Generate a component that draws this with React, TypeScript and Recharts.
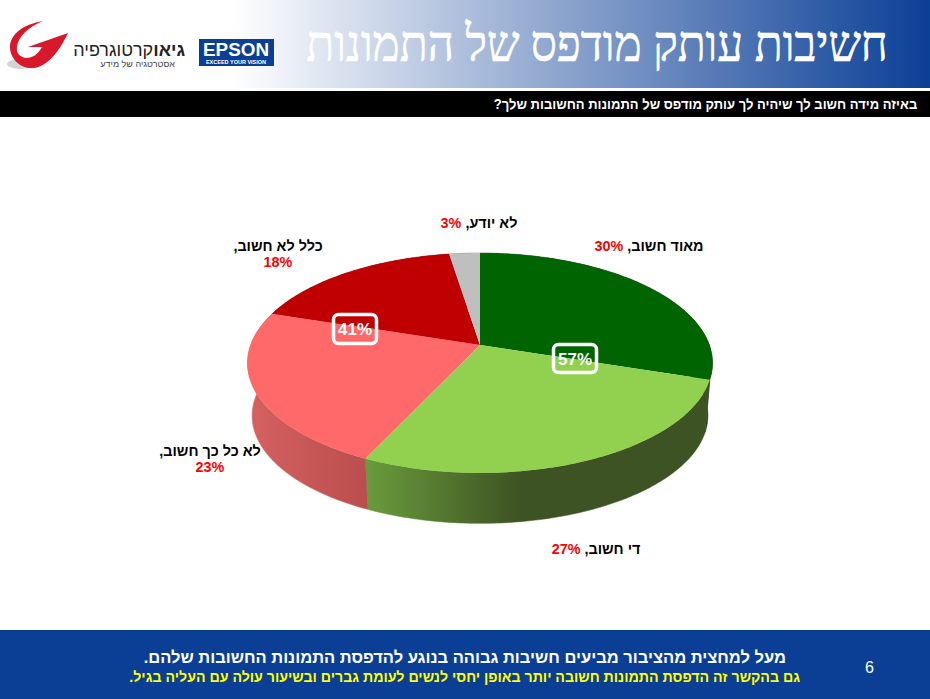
import React from "react";
import { PieChart, Pie } from "recharts";

const categories = ["מאוד חשוב", "די חשוב", "לא כל כך חשוב", "כלל לא חשוב", "לא יודע"];
const shares = [30, 27, 23, 17.5, 2.5];
const topColors = ["#006400", "#92D050", "#FF6969", "#C00000", "#BFBFBF"];
const wallFills = ["#1F3A10", "url(#wallGreen)", "url(#wallRed)", "#8A0000", "#888888"];
const summaryLabels = ["57%", "41%"];

const TITLE = "חשיבות עותק מודפס של התמונות";
const QUESTION = "באיזה מידה חשוב לך שיהיה לך עותק מודפס של התמונות החשובות שלך?";
const FOOT_1 = "מעל למחצית מהציבור מביעים חשיבות גבוהה בנוגע להדפסת התמונות החשובות שלהם.";
const FOOT_2 = "גם בהקשר זה הדפסת התמונות חשובה יותר באופן יחסי לנשים לעומת גברים ובשיעור עולה עם העליה בגיל.";

const SANS = "'Liberation Sans', Arial, sans-serif";
const SERIF = "'Liberation Serif', serif";

// perspective of the pie: k is the tilt foreshortening, the rest fits the ellipse on the slide
const K = 0.1636;
const SQUASH = 107 / 229.4;
const DEPTH = 53;
const BOTTOM_SCALE = 0.98;

const labelSpots = [
  { x: 649, y: 251, twoLines: false },
  { x: 596, y: 554, twoLines: false },
  { x: 210, y: 456, twoLines: true },
  { x: 278, y: 251, twoLines: true },
  { x: 479, y: 228, twoLines: false },
];

const rimPoint = (cx: number, cy: number, r: number, deg: number, scale = 1, drop = 0) => {
  const t = ((90 - deg) * Math.PI) / 180;
  const px = Math.sin(t);
  const py = -Math.cos(t);
  const d = 1 - K * py;
  return [cx + (scale * r * px) / d, cy + drop + (scale * r * SQUASH * py) / d];
};

const arcPoints = (props: any, scale = 1, drop = 0) => {
  const { cx, cy, outerRadius, startAngle, endAngle } = props;
  const n = Math.max(2, Math.ceil(Math.abs(endAngle - startAngle)));
  const pts: number[][] = [];
  for (let i = 0; i <= n; i++) {
    pts.push(rimPoint(cx, cy, outerRadius, startAngle + ((endAngle - startAngle) * i) / n, scale, drop));
  }
  return pts;
};

const toPath = (pts: number[][]) =>
  pts.map((p, i) => `${i === 0 ? "M" : "L"}${p[0].toFixed(2)} ${p[1].toFixed(2)}`).join(" ") + " Z";

const TopSlice = (props: any) => (
  <path d={toPath([[props.cx, props.cy], ...arcPoints(props)])} fill={props.fill} />
);

const WallSlice = (props: any) => {
  const top = arcPoints(props);
  const bottom = arcPoints(props, BOTTOM_SCALE, DEPTH).reverse();
  return <path d={toPath([...top, ...bottom])} fill={props.fill} stroke={props.fill} strokeWidth={0.5} />;
};

const renderLabel = (props: any) => {
  const spot = labelSpots[props.index];
  const pct = `${Math.round(shares[props.index])}%`;
  const common = { fontFamily: SANS, fontWeight: 700, fontSize: 14.4, textAnchor: "middle" as const };
  if (spot.twoLines) {
    return (
      <g key={props.index}>
        <text x={spot.x} y={spot.y} fill="#000" direction="rtl" {...common}>
          {categories[props.index]},
        </text>
        <text x={spot.x} y={spot.y + 16} fill="#FF0000" {...common}>
          {pct}
        </text>
      </g>
    );
  }
  return (
    <text key={props.index} x={spot.x} y={spot.y} fill="#000" direction="rtl" {...common}>
      {categories[props.index]}, <tspan fill="#FF0000">{pct}</tspan>
    </text>
  );
};

const SummaryBox = ({ x, y, h, text }: { x: number; y: number; h: number; text: string }) => (
  <g>
    <rect x={x} y={y} width={43} height={h} rx={5} fill="none" stroke="#fff" strokeWidth={3.5} />
    <text x={x + 21.5} y={y + h / 2 + 6} fill="#fff" fontFamily={SANS} fontWeight={700} fontSize={17} textAnchor="middle">
      {text}
    </text>
  </g>
);

const Logos = () => (
  <svg width={290} height={88} style={{ position: "absolute", left: 0, top: 0 }}>
    <ellipse cx={21} cy={64} rx={14} ry={5} fill="#d4d4d4" />
    <path
      d="M43 21 C24 24 10 34 10 47 C10 60 22 69 33 68 C48 67 60 50 68 33 L28 47 L42 47 C38 54 33 58 26 58 C19 57 16 52 17 47 C18 37 28 27 43 21 Z"
      fill="#D9182B"
    />
    <text x={185} y={56} direction="rtl" fontFamily={SANS} fontSize={18} fill="#222" textAnchor="start">
      <tspan fontWeight={700}>גיאו</tspan>קרטוגרפיה
    </text>
    <text x={175} y={67} direction="rtl" fontFamily={SANS} fontSize={9} fill="#444" textAnchor="start">
      אסטרטגיה של מידע
    </text>
    <rect x={199} y={39} width={75} height={27} fill="#0B3F96" />
    <text
      x={236}
      y={56}
      fontFamily={SANS}
      fontWeight={700}
      fontSize={19}
      fill="#fff"
      textAnchor="middle"
      textLength={66}
      lengthAdjust="spacingAndGlyphs"
    >
      EPSON
    </text>
    <text x={236} y={64} fontFamily={SANS} fontWeight={700} fontSize={5.5} fill="#fff" textAnchor="middle">
      EXCEED YOUR VISION
    </text>
  </svg>
);

const pieData = categories.map((name, i) => ({ name, value: shares[i], fill: topColors[i] }));
const wallData = categories.map((name, i) => ({ name, value: shares[i], fill: wallFills[i] }));

export default function App() {
  return (
    <div style={{ position: "absolute", left: 0, top: 0, width: 930, height: 699, background: "#fff", overflow: "hidden" }}>
      <div
        style={{
          position: "absolute",
          left: 0,
          top: 0,
          width: 930,
          height: 88,
          background: "linear-gradient(90deg, #fff 0%, #fff 25%, #0B3F96 100%)",
        }}
      />
      <Logos />
      <div
        dir="rtl"
        style={{
          position: "absolute",
          right: 42,
          top: 14,
          fontFamily: SERIF,
          fontSize: 50,
          lineHeight: "60px",
          color: "#fff",
          whiteSpace: "nowrap",
          transform: "scaleX(0.916)",
          transformOrigin: "right center",
          WebkitTextStroke: "0.6px #fff",
        }}
      >
        {TITLE}
      </div>
      <div style={{ position: "absolute", left: 0, top: 91, width: 930, height: 26, background: "#000" }} />
      <div
        dir="rtl"
        style={{
          position: "absolute",
          right: 13,
          top: 91,
          lineHeight: "26px",
          fontFamily: SANS,
          fontWeight: 700,
          fontSize: 14,
          color: "#fff",
          whiteSpace: "nowrap",
          transform: "scaleX(0.93)",
          transformOrigin: "right center",
        }}
      >
        {QUESTION}
      </div>

      <div style={{ position: "absolute", left: 0, top: 0 }}>
        <PieChart width={930} height={699} margin={{ top: 0, right: 0, bottom: 0, left: 0 }}>
          <defs>
            <linearGradient id="wallRed" gradientUnits="userSpaceOnUse" x1={248} x2={366} y1={0} y2={0}>
              <stop offset="0%" stopColor="#D66161" />
              <stop offset="100%" stopColor="#BA4E4E" />
            </linearGradient>
            <linearGradient id="wallGreen" gradientUnits="userSpaceOnUse" x1={366} x2={710} y1={0} y2={0}>
              <stop offset="0%" stopColor="#6A9B3C" />
              <stop offset="45%" stopColor="#3D5323" />
              <stop offset="100%" stopColor="#3D5323" />
            </linearGradient>
          </defs>
          <Pie
            data={wallData}
            dataKey="value"
            nameKey="name"
            cx={480}
            cy={345}
            outerRadius={229.4}
            startAngle={90}
            endAngle={-270}
            stroke="none"
            isAnimationActive={false}
            shape={WallSlice}
          />
          <Pie
            data={pieData}
            dataKey="value"
            nameKey="name"
            cx={480}
            cy={345}
            outerRadius={229.4}
            startAngle={90}
            endAngle={-270}
            stroke="none"
            isAnimationActive={false}
            shape={TopSlice}
            label={renderLabel}
            labelLine={false}
          />
        </PieChart>
      </div>

      <svg width={930} height={699} style={{ position: "absolute", left: 0, top: 0, pointerEvents: "none" }}>
        <SummaryBox x={553.5} y={344.5} h={28} text={summaryLabels[0]} />
        <SummaryBox x={333.5} y={314.5} h={29} text={summaryLabels[1]} />
      </svg>

      <div style={{ position: "absolute", left: 0, top: 630, width: 930, height: 69, background: "#0B3F96" }} />
      <div
        dir="rtl"
        style={{
          position: "absolute",
          right: 144,
          top: 647,
          lineHeight: "20px",
          fontFamily: SANS,
          fontWeight: 700,
          fontSize: 16.5,
          color: "#fff",
          whiteSpace: "nowrap",
        }}
      >
        {FOOT_1}
      </div>
      <div
        dir="rtl"
        style={{
          position: "absolute",
          right: 130,
          top: 668,
          lineHeight: "18px",
          fontFamily: SANS,
          fontWeight: 700,
          fontSize: 14.2,
          color: "#FFFF00",
          whiteSpace: "nowrap",
        }}
      >
        {FOOT_2}
      </div>
      <div
        style={{
          position: "absolute",
          left: 865,
          top: 659,
          lineHeight: "18px",
          fontFamily: SANS,
          fontSize: 16,
          color: "#fff",
        }}
      >
        6
      </div>
    </div>
  );
}
